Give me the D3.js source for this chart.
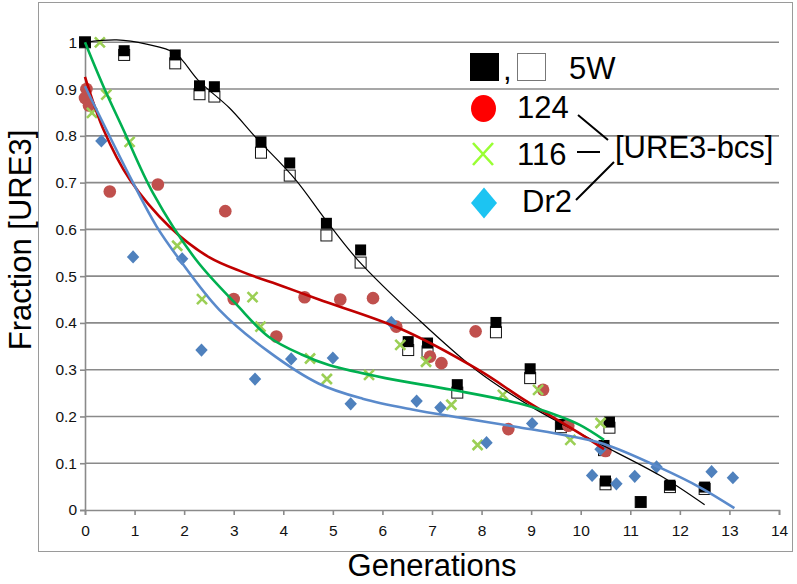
<!DOCTYPE html>
<html><head><meta charset="utf-8">
<script src="https://cdn.jsdelivr.net/npm/d3@7"></script>
<style>
html,body{margin:0;padding:0;background:#fff;}
svg{display:block;font-family:"Liberation Sans",Arial,sans-serif;}
</style></head>
<body><svg id="c" width="797" height="584"></svg>
<script>
// ---- data ----
const xTicks = [0,1,2,3,4,5,6,7,8,9,10,11,12,13,14];
const yTicks = [0,0.1,0.2,0.3,0.4,0.5,0.6,0.7,0.8,0.9,1];
const yTickLabels = ["0","0.1","0.2","0.3","0.4","0.5","0.6","0.7","0.8","0.9","1"];

const w5Gen    = [0,0.79,1.82,2.31,2.61,3.55,4.13,4.87,5.56,6.52,6.91,7.51,8.29,8.98,9.6,10.47,10.5,10.58,11.21,11.8,12.5];
const w5Filled = [1.0,0.982,0.973,0.907,0.905,0.787,0.742,0.613,0.556,0.36,0.357,0.268,0.401,0.302,0.183,0.138,0.062,0.188,0.017,0.053,0.049];
const w5Open   = [1.0,0.973,0.955,0.889,0.884,0.764,0.715,0.587,0.529,0.342,0.339,0.251,0.38,0.282,0.177,0.128,0.055,0.176,0.017,0.049,0.045];

const s124Gen = [0.03,0,0.08,0.5,1.47,2.83,3.0,3.86,4.43,5.15,5.81,6.28,6.96,7.19,7.88,8.54,9.24,9.75,10.5];
const s124Val = [0.90,0.881,0.865,0.681,0.696,0.639,0.451,0.371,0.455,0.45,0.453,0.392,0.328,0.314,0.382,0.173,0.257,0.18,0.126];

const s116Gen = [0.3,0.43,0.14,0.9,1.86,2.36,3.38,3.54,4.54,4.88,5.73,6.36,6.88,7.39,7.92,8.43,9.14,9.79,10.4];
const s116Val = [1.0,0.888,0.849,0.787,0.565,0.451,0.455,0.392,0.324,0.28,0.289,0.353,0.317,0.225,0.139,0.246,0.257,0.15,0.186];

const dr2Gen = [0.33,0.97,1.96,2.35,3.43,4.16,5.0,5.36,6.18,6.69,7.17,8.1,9.02,10.23,10.4,10.72,11.09,11.53,12.64,13.07];
const dr2Val = [0.789,0.541,0.537,0.342,0.28,0.323,0.325,0.227,0.401,0.233,0.219,0.144,0.185,0.074,0.13,0.056,0.072,0.092,0.082,0.069];

// trend lines
const trend5WGen = [0,0.64,1.24,1.81,2.30,2.91,3.45,4.25,4.85,5.50,6.73,7.93,9.0,9.98,10.39,11.61,12.5];
const trend5WVal = [1.0,1.005,0.996,0.977,0.917,0.86,0.796,0.706,0.621,0.535,0.407,0.296,0.221,0.164,0.141,0.073,0.011];
const trend124Gen = [0,0.37,0.90,1.71,2.51,3.2,4.0,4.72,6.33,7.93,8.87,9.98,10.47];
const trend124Val = [0.926,0.814,0.707,0.605,0.54,0.508,0.478,0.45,0.389,0.3,0.235,0.164,0.13];
const trend116Gen = [0,0.37,0.77,1.37,2.24,3.05,3.71,4.38,4.92,6.06,7.40,8.75,9.58,9.98,10.47];
const trend116Val = [1.0,0.906,0.814,0.678,0.535,0.44,0.37,0.332,0.31,0.282,0.257,0.228,0.2,0.182,0.15];
const trendDr2Gen = [0,0.90,1.44,1.91,2.71,3.71,4.72,5.6,6.6,7.6,8.75,9.58,10.47,11.61,12.43,13.1];
const trendDr2Val = [0.906,0.714,0.607,0.535,0.428,0.338,0.27,0.238,0.215,0.197,0.177,0.162,0.141,0.09,0.047,0.004];

const legendLabels = ["5W","124","116","Dr2"];
const groupLabel = "[URE3-bcs]";

// ---- drawing ----
const svg = d3.select("#c");
const x = d3.scaleLinear().domain([0,14]).range([85,779]);
const y = d3.scaleLinear().domain([0,1]).range([510,42.3]);
const grid = "#8a8a8a";

svg.append("rect").attr("x",38.5).attr("y",2.5).attr("width",754).attr("height",549)
  .attr("fill","#fff").attr("stroke","#9a9a9a").attr("stroke-width",1);

// gridlines
svg.append("g").selectAll("line").data(yTicks.filter(d=>d>0)).join("line")
  .attr("x1",x(0)).attr("x2",x(14)).attr("y1",d=>y(d)).attr("y2",d=>y(d))
  .attr("stroke",grid).attr("stroke-width",1.6);

// axes
const xAxis = svg.append("g").attr("transform",`translate(0,${y(0)})`)
  .call(d3.axisBottom(x).tickValues(xTicks).tickSize(5).tickPadding(10).tickFormat(d3.format("d")));
const yAxis = svg.append("g").attr("transform",`translate(${x(0)},0)`)
  .call(d3.axisLeft(y).tickValues(yTicks).tickSize(5).tickPadding(3).tickFormat((d,i)=>yTickLabels[i]));
[xAxis,yAxis].forEach(a=>{
  a.select(".domain").attr("stroke",grid).attr("stroke-width",1.6);
  a.selectAll(".tick line").attr("stroke",grid).attr("stroke-width",1.6);
  a.selectAll("text").attr("font-size",15.5).attr("fill","#111").attr("font-family","'Liberation Sans',Arial,sans-serif");
});

// markers: 5W open then filled
const sq = 11;
svg.append("g").selectAll("rect").data(w5Gen.map((g,i)=>[g,w5Open[i]])).join("rect")
  .attr("x",d=>x(d[0])-sq/2).attr("y",d=>y(d[1])-sq/2).attr("width",sq).attr("height",sq)
  .attr("fill","#fff").attr("stroke","#111").attr("stroke-width",1);
svg.append("g").selectAll("rect").data(w5Gen.map((g,i)=>[g,w5Filled[i]])).join("rect")
  .attr("x",d=>x(d[0])-sq/2).attr("y",d=>y(d[1])-sq/2).attr("width",sq).attr("height",sq)
  .attr("fill","#000");

// 124 circles
svg.append("g").selectAll("circle").data(s124Gen.map((g,i)=>[g,s124Val[i]])).join("circle")
  .attr("cx",d=>x(d[0])).attr("cy",d=>y(d[1])).attr("r",6.3).attr("fill","#C0504D");

// 116 X
const xs = 5;
svg.append("g").selectAll("path").data(s116Gen.map((g,i)=>[g,s116Val[i]])).join("path")
  .attr("d",d=>{const cx=x(d[0]),cy=y(d[1]);return `M${cx-xs},${cy-xs}L${cx+xs},${cy+xs}M${cx+xs},${cy-xs}L${cx-xs},${cy+xs}`;})
  .attr("stroke","#9BCF55").attr("stroke-width",2.6).attr("fill","none");

// Dr2 diamonds
const dw=6.2, dh=6.6;
svg.append("g").selectAll("path").data(dr2Gen.map((g,i)=>[g,dr2Val[i]])).join("path")
  .attr("d",d=>{const cx=x(d[0]),cy=y(d[1]);return `M${cx},${cy-dh}L${cx+dw},${cy}L${cx},${cy+dh}L${cx-dw},${cy}Z`;})
  .attr("fill","#4F81BD");

// trend lines
const line = d3.line().x(d=>x(d[0])).y(d=>y(d[1])).curve(d3.curveCatmullRom.alpha(0.5));
function trend(g,v,color,w){
  svg.append("path").datum(g.map((gg,i)=>[gg,v[i]])).attr("d",line)
    .attr("fill","none").attr("stroke",color).attr("stroke-width",w);
}
trend(trend5WGen,trend5WVal,"#000",1.2);
trend(trend124Gen,trend124Val,"#C00000",2.6);
trend(trend116Gen,trend116Val,"#00B050",2.6);
trend(trendDr2Gen,trendDr2Val,"#5A8ACB",2.6);

// legend
const lg = svg.append("g");
lg.append("rect").attr("x",470).attr("y",53).attr("width",29).attr("height",28).attr("fill","#000");
lg.append("text").attr("x",503).attr("y",80).attr("font-size",31).text(",");
lg.append("rect").attr("x",517.5).attr("y",53.5).attr("width",28).attr("height",27)
  .attr("fill","#fff").attr("stroke","#777").attr("stroke-width",1);
lg.append("ellipse").attr("cx",483.5).attr("cy",108.5).attr("rx",12.5).attr("ry",13.5).attr("fill","#FF0000");
lg.append("path").attr("d","M473,143L493,165M493,143L473,165").attr("stroke","#99FF33").attr("stroke-width",2.6).attr("fill","none");
lg.append("path").attr("d","M484,187.5L497,203L484,218.5L471,203Z").attr("fill","#1CC4F2");
const legPos = [[569,79],[517,118],[517,165],[522,212]];
lg.selectAll("text.l").data(legendLabels).join("text").attr("class","l")
  .attr("x",(d,i)=>legPos[i][0]).attr("y",(d,i)=>legPos[i][1])
  .attr("font-size",31).attr("fill","#000").text(d=>d);
lg.append("text").attr("x",615).attr("y",158).attr("font-size",31).attr("fill","#000").text(groupLabel);
lg.append("path").attr("d","M578,115L608,140M577,152L600,152M576,200L614,162")
  .attr("stroke","#000").attr("stroke-width",2).attr("fill","none");

// axis titles
svg.append("text").attr("x",432).attr("y",576).attr("text-anchor","middle")
  .attr("font-size",31).attr("fill","#000").text("Generations");
svg.append("text").attr("transform","translate(31,240) rotate(-90)").attr("text-anchor","middle")
  .attr("font-size",31).attr("fill","#000").text("Fraction [URE3]");
</script></body></html>
